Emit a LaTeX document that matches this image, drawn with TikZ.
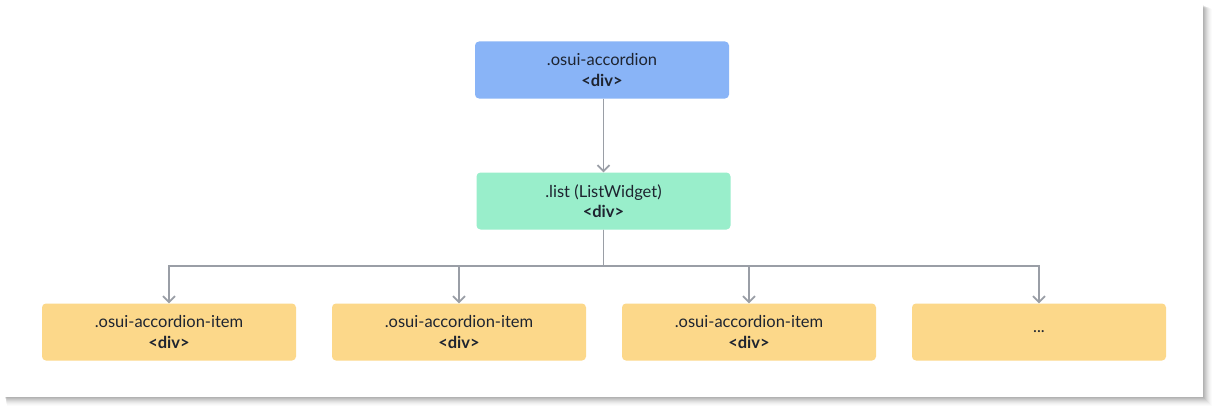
\documentclass[tikz,border=0pt]{standalone}
\usepackage{fontspec}
\setmainfont{Lato}
\usetikzlibrary{arrows.meta}
\definecolor{boxblue}{HTML}{89B4F7}
\definecolor{boxgreen}{HTML}{99EECB}
\definecolor{boxyellow}{HTML}{FCD88A}
\definecolor{linegray}{HTML}{9A9EA6}
\definecolor{txt}{HTML}{1E2430}
\tikzset{
  box/.style={rectangle, rounded corners=4pt, minimum width=254pt, minimum height=57pt,
    inner sep=0pt, align=center, text=txt, font=\fontsize{16.5pt}{20.5pt}\selectfont},
  conn/.style={draw=linegray, line width=1.9pt, -{Straight Barb[length=6pt,width=12pt,line width=1.7pt]}},
}
\begin{document}
\begin{tikzpicture}[x=1pt,y=-1pt]
\useasboundingbox (0,0) rectangle (1218,412);
% card shadow
\foreach \i/\o in {9/0.015,8/0.02,7/0.025,6/0.03,5/0.04,4/0.05,3/0.05,2/0.06,1/0.06}{
  \fill[black,opacity=\o] (5+\i*0.2,5+\i*0.4) rectangle (1203+\i,397+\i);
}
\fill[white] (5,5) rectangle (1203,397);
\node[box, fill=boxblue] (root) at (602,70) {.osui-accordion\\\textbf{<div>}};
\node[box, fill=boxgreen] (list) at (603.5,201) {.list (ListWidget)\\\textbf{<div>}};
\node[box, fill=boxyellow] (i1) at (169,332) {.osui-accordion-item\\\textbf{<div>}};
\node[box, fill=boxyellow] (i2) at (459,332) {.osui-accordion-item\\\textbf{<div>}};
\node[box, fill=boxyellow] (i3) at (749,332) {.osui-accordion-item\\\textbf{<div>}};
\node[box, fill=boxyellow] (i4) at (1039,332) {...};
\coordinate (bus) at (603.5,266);
\draw[conn] (root.south -| list.north) -- (list.north);
\foreach \n in {i1,i2,i3,i4}{
  \draw[conn, rounded corners=0pt] (list.south) -- (bus) -| (\n.north);
}
\end{tikzpicture}
\end{document}
